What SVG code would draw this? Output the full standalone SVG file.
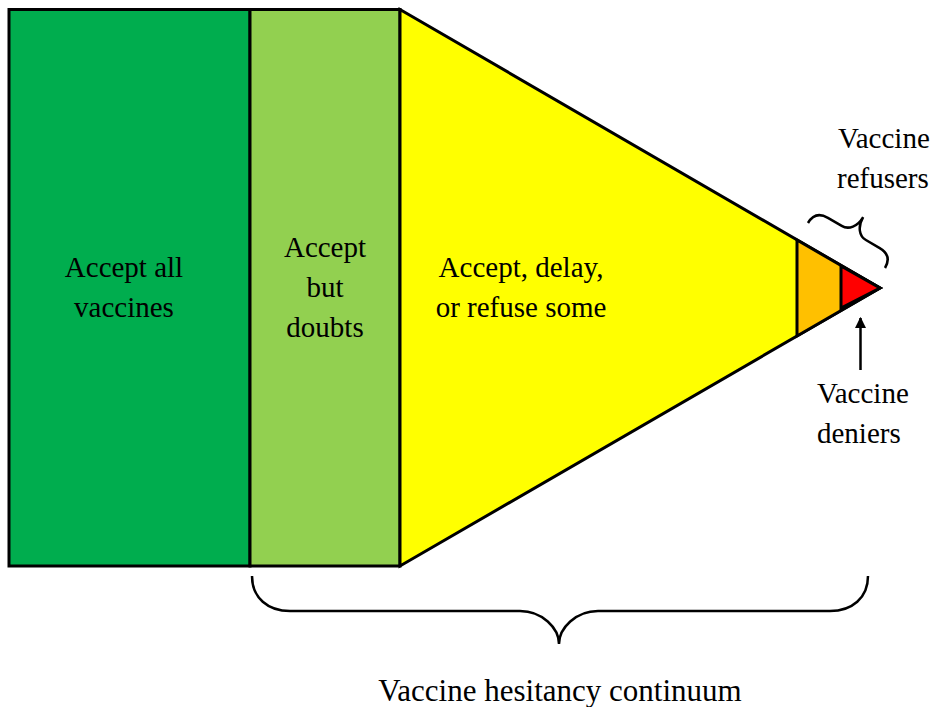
<svg xmlns="http://www.w3.org/2000/svg" width="944" height="707" viewBox="0 0 944 707">
<style>
.o{stroke:#000;stroke-width:3;stroke-linejoin:miter}
.b{fill:none;stroke:#000;stroke-width:2.5}
</style>
<defs>
<marker id="ah" viewBox="0 0 10 10" refX="9" refY="5" markerWidth="4.5" markerHeight="4.5" orient="auto" markerUnits="strokeWidth">
<path d="M0,0 L10,5 L0,10 z" fill="#000"/>
</marker>
</defs>
<rect width="944" height="707" fill="#fff"/>
<g id="accept-all">
<rect class="o" x="9" y="9.5" width="241" height="556.5" fill="#00AD4E"/>
</g>
<g id="accept-doubts">
<rect class="o" x="250" y="9.5" width="150" height="556.5" fill="#92D050"/>
</g>
<g id="delay-refuse">
<polygon class="o" points="400,9.5 880,288 400,566" fill="#FFFF00"/>
</g>
<g id="refusers">
<polygon class="o" points="797,240 880,288 797,336" fill="#FFC000"/>
<polygon class="o" points="841,266 880,288 841,308" fill="#FF0000"/>
</g>
<g id="connectors">
<path class="b" d="M252,576 C252,598 268,611 290,611 L520,611 C542,611 559,628 559,644 C559,628 576,611 598,611 L830,611 C852,611 868,598 868,576"/>
<path class="b" transform="translate(846.5,245.5) rotate(30.3)" d="M-44.6,0 C-44.6,-9 -40,-14.5 -30,-14.5 L-14,-14.5 C-6,-14.5 0,-22 0,-33 C0,-22 6,-14.5 14,-14.5 L30,-14.5 C40,-14.5 44.6,-9 44.6,0"/>
<line x1="860.5" y1="370" x2="860.5" y2="318" stroke="#000" stroke-width="2.5" marker-end="url(#ah)"/>
</g>
<text x="124" y="277" font-family="Liberation Serif" font-size="29" text-anchor="middle">Accept all</text>
<text x="124" y="317" font-family="Liberation Serif" font-size="29" text-anchor="middle">vaccines</text>
<text x="325" y="257" font-family="Liberation Serif" font-size="29" text-anchor="middle">Accept</text>
<text x="325" y="297" font-family="Liberation Serif" font-size="29" text-anchor="middle">but</text>
<text x="325" y="337" font-family="Liberation Serif" font-size="29" text-anchor="middle">doubts</text>
<text x="521" y="277" font-family="Liberation Serif" font-size="29" text-anchor="middle">Accept, delay,</text>
<text x="521" y="317" font-family="Liberation Serif" font-size="29" text-anchor="middle">or refuse some</text>
<text x="838" y="148" font-family="Liberation Serif" font-size="29">Vaccine</text>
<text x="837" y="188" font-family="Liberation Serif" font-size="29">refusers</text>
<text x="817" y="403" font-family="Liberation Serif" font-size="29">Vaccine</text>
<text x="817" y="443" font-family="Liberation Serif" font-size="29">deniers</text>
<text x="560" y="701" font-family="Liberation Serif" font-size="31" text-anchor="middle">Vaccine hesitancy continuum</text>
</svg>
